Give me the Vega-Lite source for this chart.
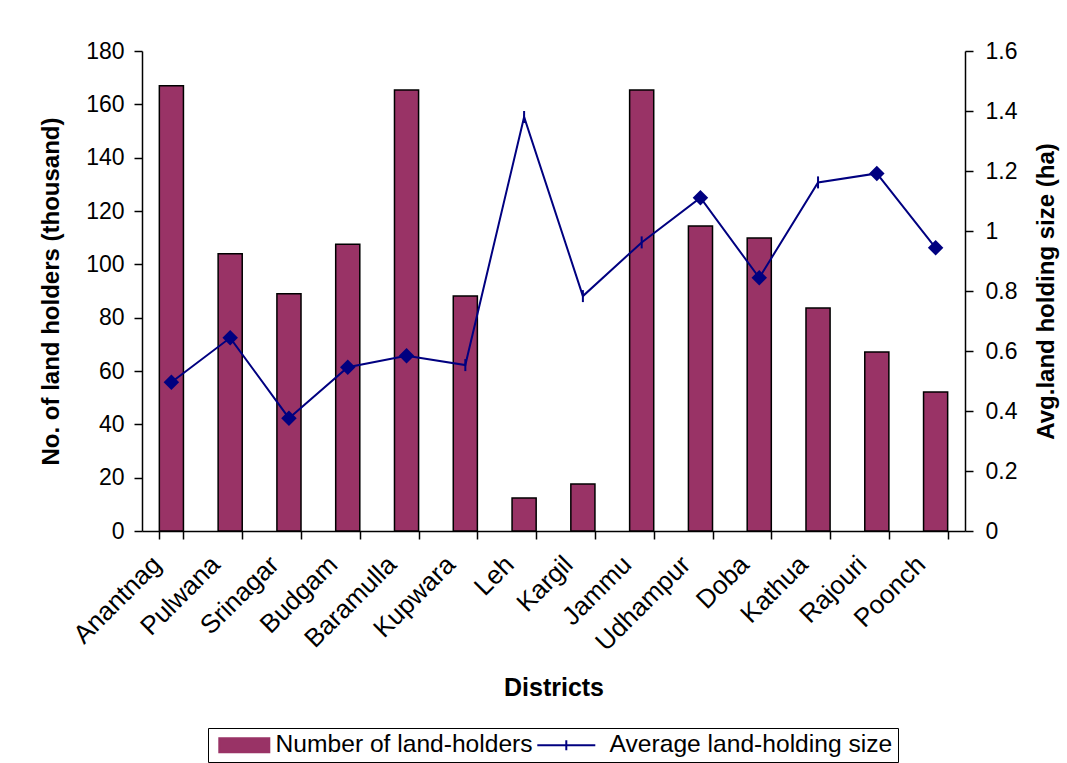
{
  "$schema": "https://vega.github.io/schema/vega-lite/v6.json",
  "width": 823,
  "height": 480,
  "autosize": {"type": "none"},
  "padding": {"left": 142, "top": 51, "right": 102, "bottom": 232},
  "background": "white",
  "config": {
    "font": "Liberation Sans",
    "view": {"stroke": null},
    "axis": {
      "labelFont": "Liberation Sans",
      "titleFont": "Liberation Sans",
      "labelFontSize": 23,
      "titleFontSize": 24,
      "titleFontWeight": "bold",
      "labelColor": "black",
      "titleColor": "black",
      "domainColor": "black",
      "tickColor": "black",
      "domainWidth": 1.5,
      "tickWidth": 1.5,
      "tickSize": 8,
      "grid": false
    },
    "legend": {
      "labelFont": "Liberation Sans",
      "labelFontSize": 24.6,
      "labelColor": "black"
    }
  },
  "data": {
    "values": [
      {"district": "Anantnag", "holders": 167, "avg": 0.496},
      {"district": "Pulwana", "holders": 104, "avg": 0.644},
      {"district": "Srinagar", "holders": 89, "avg": 0.376},
      {"district": "Budgam", "holders": 107.5, "avg": 0.546},
      {"district": "Baramulla", "holders": 165.4, "avg": 0.584},
      {"district": "Kupwara", "holders": 88.1, "avg": 0.553},
      {"district": "Leh", "holders": 12.4, "avg": 1.38},
      {"district": "Kargil", "holders": 17.6, "avg": 0.783},
      {"district": "Jammu", "holders": 165.4, "avg": 0.962},
      {"district": "Udhampur", "holders": 114.4, "avg": 1.111},
      {"district": "Doba", "holders": 109.9, "avg": 0.844},
      {"district": "Kathua", "holders": 83.6, "avg": 1.162},
      {"district": "Rajouri", "holders": 67.1, "avg": 1.192},
      {"district": "Poonch", "holders": 52.1, "avg": 0.944}
    ]
  },
  "encoding": {
    "x": {
      "field": "district",
      "type": "nominal",
      "sort": null,
      "scale": {"paddingInner": 0.59, "paddingOuter": 0.295},
      "axis": {
        "title": "Districts",
        "titleFontSize": 25,
        "labelFontSize": 26,
        "labelAngle": -45,
        "tickBand": "extent",
        "labelPadding": 12,
        "labelOffset": -24,
        "titlePadding": 20
      }
    }
  },
  "layer": [
    {
      "mark": {"type": "bar", "stroke": "black", "strokeWidth": 1.5},
      "encoding": {
        "y": {
          "field": "holders",
          "type": "quantitative",
          "scale": {"domain": [0, 180]},
          "axis": {
            "title": "No. of land holders (thousand)",
            "values": [0, 20, 40, 60, 80, 100, 120, 140, 160, 180],
            "labelPadding": 10,
            "titlePadding": 22
          }
        },
        "color": {
          "datum": "Number of land-holders",
          "type": "nominal",
          "scale": {
            "domain": ["Number of land-holders", "Average land-holding size"],
            "range": ["#993366", "#000080"]
          },
          "legend": {
            "title": null,
            "orient": "none",
            "direction": "horizontal",
            "legendX": 66,
            "legendY": 677,
            "strokeColor": "black",
            "padding": 5,
            "columnPadding": 0,
            "labelOffset": 38,
            "labelLimit": 400,
            "symbolSize": 400,
            "symbolStrokeWidth": 2,
            "symbolOpacity": 1,
            "symbolType": {"expr": "datum.value === 'Number of land-holders' ? 'M-0.6,-0.7H4.4V0.7H-0.6Z' : 'M-2.2,0H3.6M0.7,-0.5V0.5'"},
            "symbolStrokeColor": {"expr": "datum.value === 'Number of land-holders' ? 'black' : '#000080'"}
          }
        }
      }
    },
    {
      "encoding": {
        "y": {
          "field": "avg",
          "type": "quantitative",
          "scale": {"domain": [0, 1.6]},
          "axis": {
            "title": "Avg.land holding size (ha)",
            "orient": "right",
            "values": [0, 0.2, 0.4, 0.6, 0.8, 1, 1.2, 1.4, 1.6],
            "format": "~g",
            "labelPadding": 12,
            "titleAngle": 270,
            "titleBaseline": "top",
            "titlePadding": 18
          }
        }
      },
      "layer": [
        {
          "mark": {"type": "line", "strokeWidth": 2},
          "encoding": {
            "color": {"datum": "Average land-holding size", "type": "nominal"}
          }
        },
        {
          "transform": [
            {"filter": {"field": "district", "oneOf": ["Anantnag", "Pulwana", "Srinagar", "Budgam", "Baramulla", "Udhampur", "Doba", "Rajouri", "Poonch"]}}
          ],
          "mark": {"type": "point", "shape": "diamond", "filled": true, "size": 240, "color": "#000080", "opacity": 1}
        },
        {
          "transform": [
            {"filter": {"not": {"field": "district", "oneOf": ["Anantnag", "Pulwana", "Srinagar", "Budgam", "Baramulla", "Udhampur", "Doba", "Rajouri", "Poonch"]}}}
          ],
          "mark": {"type": "point", "shape": "M0,-1V1", "filled": false, "size": 144, "stroke": "#000080", "strokeWidth": 2, "opacity": 1}
        }
      ]
    }
  ],
  "resolve": {"scale": {"y": "independent"}}
}
